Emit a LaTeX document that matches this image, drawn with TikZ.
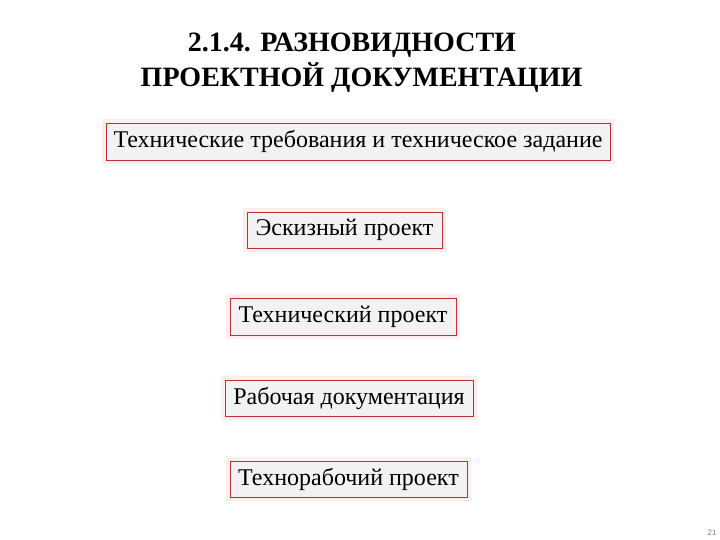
\documentclass[tikz,border=0pt]{standalone}
\usepackage{fontspec}
\setmainfont{Liberation Serif}
\newfontfamily\tnr{Liberation Serif}
\setsansfont{Liberation Sans}
\definecolor{boxred}{RGB}{190,50,50}
\definecolor{boxfill}{RGB}{242,242,242}
\definecolor{glow}{RGB}{253,238,238}
\tikzset{
  stage/.style={draw=boxred, line width=0.9pt, fill=boxfill, inner sep=0pt,
    font=\tnr\fontsize{24}{28}\selectfont, text=black},
  titletext/.style={font=\tnr\bfseries\fontsize{28}{35}\selectfont, anchor=base, inner sep=0pt},
  glowbox/.style={fill=glow, draw=none}
}
\begin{document}
\begin{tikzpicture}[x=1pt,y=-1pt]
\useasboundingbox[fill=white] (0,0) rectangle (720,540);
\node[titletext] (title1) at (352,52) {2.1.4. РАЗНОВИДНОСТИ};
\node[titletext] (title2) at (361.5,87) {ПРОЕКТНОЙ ДОКУМЕНТАЦИИ};
\foreach \cx/\cy/\w/\h in {358/141.5/504/37, 344.5/230/195/36, 343/316.5/226/37, 349/398/248/36, 348.5/479/237/36}{
  \fill[glowbox] (\cx-\w/2-4,\cy-\h/2-4) rectangle (\cx+\w/2+4,\cy+\h/2+4);
}
\node[stage, minimum width=504pt, minimum height=37pt] (b1) at (358,141.5) {Технические требования и техническое задание};
\node[stage, minimum width=195pt, minimum height=36pt] (b2) at (344.5,230) {Эскизный проект};
\node[stage, minimum width=226pt, minimum height=37pt] (b3) at (343,316.5) {Технический проект};
\node[stage, minimum width=248pt, minimum height=36pt] (b4) at (349,398) {Рабочая документация};
\node[stage, minimum width=237pt, minimum height=36pt] (b5) at (348.5,479) {Технорабочий проект};
\node[font=\sffamily\fontsize{8}{9}\selectfont, text=gray] (pg) at (712,533) {21};
\end{tikzpicture}
\end{document}
